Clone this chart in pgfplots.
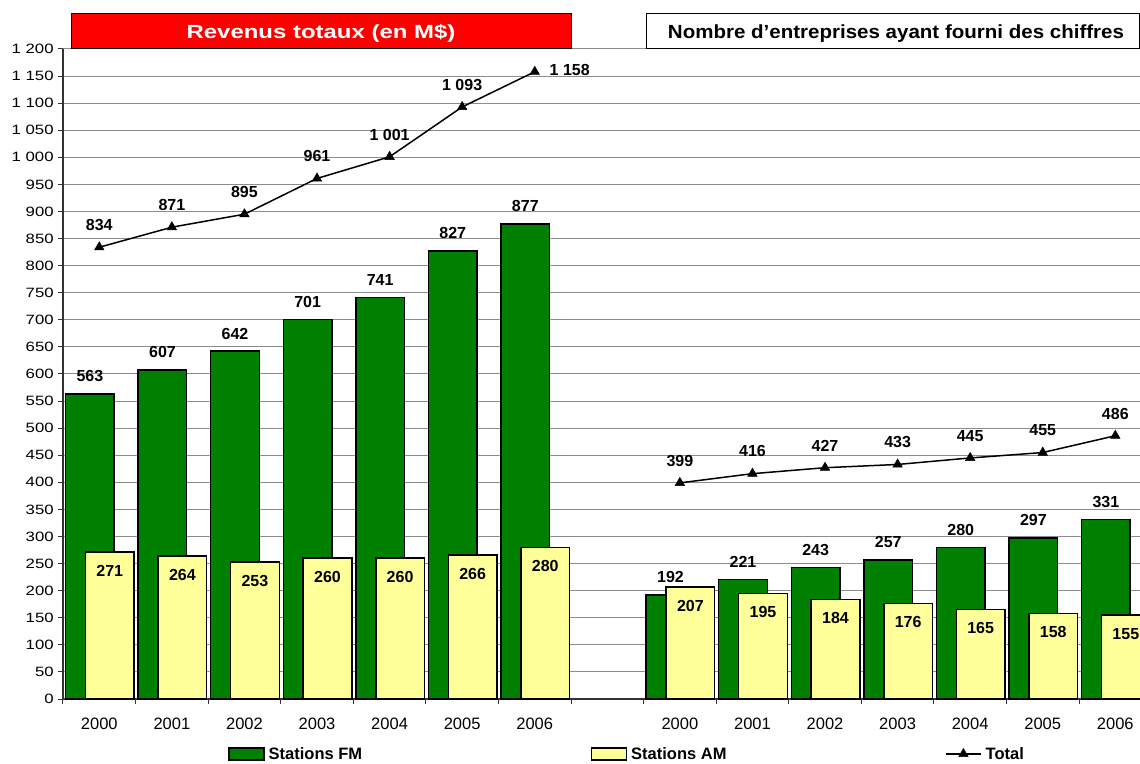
\documentclass[border=0pt]{standalone}
\usepackage{pgfplots}
\pgfplotsset{compat=1.18}
\usepackage{fontspec}
\setmainfont{Liberation Sans}
\definecolor{fmgreen}{RGB}{0,128,0}
\definecolor{amyellow}{RGB}{255,255,153}
\definecolor{titlered}{RGB}{255,0,0}
\newcommand{\fs}[1]{\fontsize{#1bp}{#1bp}\selectfont}
\pgfplotsset{
  barleg/.style={legend image code/.code={\draw[##1] (0bp,-6bp) rectangle (35bp,6bp);}},
  lineleg/.style={legend image code/.code={\draw[mark repeat=2, mark phase=2, ##1] plot coordinates {(0bp,0bp) (17.5bp,0bp) (35bp,0bp)};}},
}
\begin{document}
\begin{tikzpicture}
\begin{axis}[
  scale only axis, width=1077bp, height=650bp,
  xmin=-0.5, xmax=14.34, ymin=0, ymax=1200,
  axis x line*=bottom, axis y line*=left,
  axis line style={black!80, line width=1.2bp},
  ytick distance=50,
  ymajorgrids, major grid style={black!45, line width=1bp},
  xtick={0,1,2,3,4,5,6,8,9,10,11,12,13,14},
  xticklabels={2000,2001,2002,2003,2004,2005,2006,2000,2001,2002,2003,2004,2005,2006},
  major x tick style={draw=none},
  minor xtick={-0.5,0.5,1.5,2.5,3.5,4.5,5.5,6.5,7.5,8.5,9.5,10.5,11.5,12.5,13.5},
  minor x tick style={black!80, line width=1bp},
  tick align=outside,
  major tick length=5bp, minor tick length=5bp,
  ytick style={black!80, line width=1bp},
  x tick label style={font=\fs{16.5}, anchor=center, yshift=-20bp},
  y tick label style={font=\fs{13.5}, xscale=1.24},
  /pgf/number format/assume math mode=true,
  /pgf/number format/1000 sep={\ },
  legend style={at={(0.1532,-0.0846)}, anchor=west, draw=none, fill=none,
    inner sep=0pt, legend columns=3,
    nodes={inner sep=0pt, font=\bfseries\fs{16.5}},
    /tikz/every odd column/.append style={column sep=4bp}},
]
\addplot[ybar, bar width=0.67, bar shift=-0.13, fill=fmgreen, draw=black, line width=1.5bp,
  nodes near coords, every node near coord/.append style={font=\bfseries\fs{16}, xshift=-9.4bp, yshift=8bp, black},
  barleg]
  coordinates {(0,563) (1,607) (2,642) (3,701) (4,741) (5,827) (6,877)
               (8,192) (9,221) (10,243) (11,257) (12,280) (13,297) (14,331)};
\addlegendentry{\makebox[322bp][l]{Stations FM}}
\addplot[ybar, bar width=0.67, bar shift=0.145, fill=amyellow, draw=black, line width=1.5bp,
  nodes near coords, every node near coord/.append style={font=\bfseries\fs{16}, xshift=10.5bp, yshift=-28.5bp, black},
  barleg]
  coordinates {(0,271) (1,264) (2,253) (3,260) (4,260) (5,266) (6,280)
               (8,207) (9,195) (10,184) (11,176) (12,165) (13,158) (14,155)};
\addlegendentry{\makebox[314bp][l]{Stations AM}}
\addplot[black, line width=1.5bp, mark=triangle*, mark size=5.5bp,
  mark options={fill=black, line width=0.5bp}, unbounded coords=jump,
  nodes near coords, every node near coord/.append style={font=\bfseries\fs{16}, yshift=13bp, black},
  coordinate style/.condition={y>1100}{xshift=35bp, yshift=-20bp},
  lineleg]
  coordinates {(0,834) (1,871) (2,895) (3,961) (4,1001) (5,1093) (6,1158) (7,nan)
               (8,399) (9,416) (10,427) (11,433) (12,445) (13,455) (14,486)};
\addlegendentry{Total}
\end{axis}
\node[fill=titlered, draw=black, line width=1.2bp, minimum width=500bp, minimum height=35bp,
  anchor=south west, inner sep=0pt] at (8bp,650bp) {};
\node[text=white, font=\bfseries\fs{19}, xscale=1.26, anchor=base, inner sep=0pt] at (258bp,660bp) {Revenus totaux (en M\$)};
\node[fill=white, draw=black, line width=1.2bp, minimum width=493bp, minimum height=35bp,
  anchor=south west, inner sep=0pt] at (583bp,650bp) {};
\node[text=black, font=\bfseries\fs{19}, xscale=1.08, anchor=base, inner sep=0pt] at (833bp,660bp) {Nombre d’entreprises ayant fourni des chiffres};
\pgfresetboundingbox
\path (-63bp,-65bp) rectangle (1077bp,699bp);
\end{tikzpicture}
\end{document}
